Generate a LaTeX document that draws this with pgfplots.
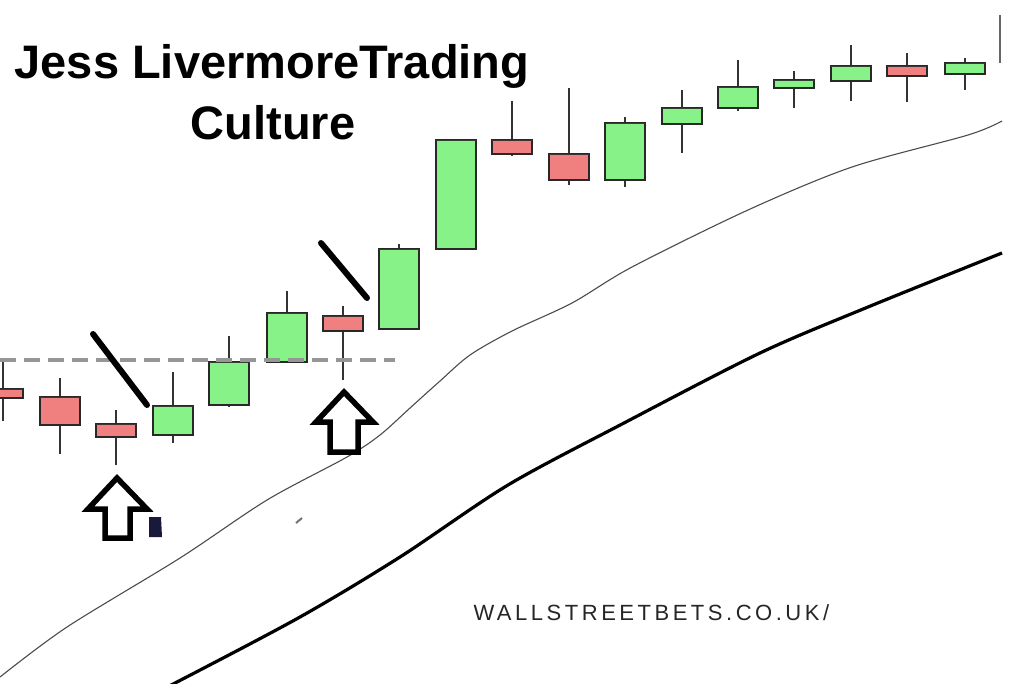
\documentclass[border=0pt]{standalone}
\usepackage{fontspec}
\setmainfont{Liberation Sans}
\newfontfamily\wmfont[LetterSpace=16]{Liberation Sans}
\usepackage{pgfplots}
\pgfplotsset{compat=1.18}
\usepgfplotslibrary{statistics}

\definecolor{upgreen}{RGB}{135,242,135}
\definecolor{downred}{RGB}{240,128,128}
\definecolor{edge}{RGB}{40,40,40}
\definecolor{dashgray}{RGB}{150,150,150}

% one candle: x, wick top, body top, body bottom, wick bottom, fill
\newcommand{\candle}[6]{%
  \addplot[draw=edge, line width=1.7pt, fill=#6,
    boxplot prepared={draw direction=y, draw position=#1,
      lower whisker=#2, lower quartile=#3, median=#3,
      upper quartile=#4, upper whisker=#5,
      box extend=40, whisker extend=0,
      every whisker/.style={line width=1.6pt, draw=black!80},
      every median/.style={draw=none}}]
  coordinates {};
}

\begin{document}
\begin{tikzpicture}
\begin{axis}[
    width=1024pt, height=683pt, scale only axis,
    xmin=0, xmax=1024, ymin=0, ymax=683,
    y dir=reverse,
    axis lines=none, xtick=\empty, ytick=\empty,
    axis background/.style={fill=white},
    clip=true,
]
% moving averages
\addplot[smooth, color=black!70, line width=1.1pt] coordinates {
    (0,677) (67,627) (180,558) (267,500) (347,457) (380,435)
    (410,408) (440,381) (470,355) (512,331) (572,303) (632,267)
    (748,210) (852,167) (968,135) (1002,121)
};
\addplot[smooth, color=black, line width=3.2pt] coordinates {
    (150,695) (177,682) (300,617) (400,557) (508,485) (624,423)
    (760,353) (868,307) (1002,253)
};

% candles
\candle{3}{358}{389}{398}{421}{downred}
\candle{60}{378}{397}{425}{454}{downred}
\candle{116}{410}{424}{437}{465}{downred}
\candle{173}{372}{406}{435}{443}{upgreen}
\candle{229}{336}{362}{405}{407}{upgreen}
\candle{287}{291}{313}{362}{362}{upgreen}
\candle{343}{306}{316}{331}{380}{downred}
\candle{399}{244}{249}{329}{329}{upgreen}
\candle{456}{139}{140}{249}{249}{upgreen}
\candle{512}{101}{140}{154}{156}{downred}
\candle{569}{88}{154}{180}{185}{downred}
\candle{625}{117}{123}{180}{187}{upgreen}
\candle{682}{90}{108}{124}{153}{upgreen}
\candle{738}{60}{87}{108}{111}{upgreen}
\candle{794}{71}{80}{88}{108}{upgreen}
\candle{851}{45}{66}{81}{101}{upgreen}
\candle{907}{53}{66}{76}{102}{downred}
\candle{965}{58}{63}{74}{90}{upgreen}

% resistance level
\addplot[color=dashgray, line width=3.5pt, dash pattern=on 16pt off 8pt]
    coordinates {(0,360) (395,360)};

% trend breaks
\addplot[black, line width=6pt, line cap=round] coordinates {(93,334) (147,405)};
\addplot[black, line width=6pt, line cap=round] coordinates {(321,243) (367,298)};

% up arrows
\addplot[draw=black, fill=white, line width=5.5pt, line join=miter] coordinates {
    (117,478) (147,509) (130,509) (130,538) (105,538) (105,509) (88,509)
} -- cycle;
\addplot[draw=black, fill=white, line width=5.5pt, line join=miter] coordinates {
    (344,392) (373,422) (358,422) (358,452) (330,452) (330,422) (316,422)
} -- cycle;

% small marks
\addplot[draw=none, fill={rgb,255:red,25;green,25;blue,60}] coordinates {
    (149,517) (161,517) (162,537) (149,537)
} -- cycle;
\addplot[color=black!55, line width=2pt] coordinates {(296,523) (302,518)};
\addplot[color=black!60, line width=1.2pt] coordinates {(1000,15) (1000,63)};

% title and watermark
\node[anchor=base, font=\fontsize{47}{56}\selectfont\bfseries]
    at (axis cs:272,78) {Jess LivermoreTrading};
\node[anchor=base, font=\fontsize{47}{56}\selectfont\bfseries]
    at (axis cs:273,139) {Culture};
\node[anchor=base west, font=\fontsize{22}{26}\selectfont\wmfont, text=black!85]
    at (axis cs:470,620) {WALLSTREETBETS.CO.UK/};
\end{axis}
\end{tikzpicture}
\end{document}
